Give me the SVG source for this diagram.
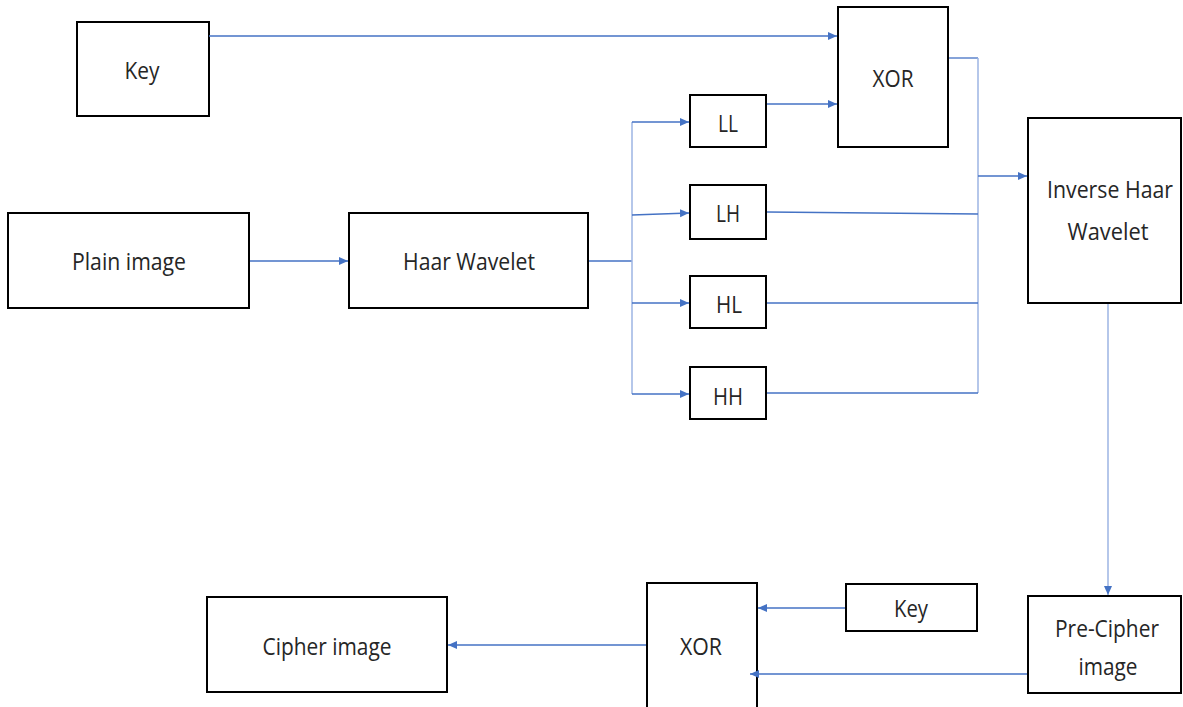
<svg xmlns="http://www.w3.org/2000/svg" width="1183" height="707" viewBox="0 0 1183 707">
<style>
.box{fill:#fff;stroke:#000;stroke-width:2}
.t{font-family:"Open Sans","Liberation Sans",sans-serif;font-size:24px;fill:#262626;text-anchor:middle}
.c{fill:none;stroke:#4472C4;stroke-width:1.3}
.cv{fill:none;stroke:#9DB5E3;stroke-width:1.5}
</style>
<defs>
<marker id="ah" markerUnits="userSpaceOnUse" markerWidth="10" markerHeight="10" refX="9" refY="4" orient="auto">
<path d="M0,0 L9,4 L0,8 Z" fill="#4472C4"/>
</marker>
</defs>
<rect width="1183" height="707" fill="#fff"/>
<g id="key1"><rect class="box" x="77" y="22" width="132" height="94"/><text class="t" x="142" y="79" textLength="35" lengthAdjust="spacingAndGlyphs">Key</text></g>
<g id="plain"><rect class="box" x="8" y="213" width="241" height="95"/><text class="t" x="129" y="270" textLength="114" lengthAdjust="spacingAndGlyphs">Plain image</text></g>
<g id="haar"><rect class="box" x="349" y="213" width="239" height="95"/><text class="t" x="469" y="270" textLength="132" lengthAdjust="spacingAndGlyphs">Haar Wavelet</text></g>
<g id="ll"><rect class="box" x="690" y="95" width="76" height="52"/><text class="t" x="728" y="132" textLength="20" lengthAdjust="spacingAndGlyphs">LL</text></g>
<g id="lh"><rect class="box" x="690" y="185" width="76" height="54"/><text class="t" x="728" y="222" textLength="24" lengthAdjust="spacingAndGlyphs">LH</text></g>
<g id="hl"><rect class="box" x="690" y="276" width="76" height="52"/><text class="t" x="729" y="313" textLength="26" lengthAdjust="spacingAndGlyphs">HL</text></g>
<g id="hh"><rect class="box" x="690" y="367" width="76" height="52"/><text class="t" x="728" y="405" textLength="30" lengthAdjust="spacingAndGlyphs">HH</text></g>
<g id="xor1"><rect class="box" x="838" y="7" width="110" height="140"/><text class="t" x="893" y="87" textLength="41" lengthAdjust="spacingAndGlyphs">XOR</text></g>
<g id="inverse"><rect class="box" x="1028" y="118" width="153" height="185"/><text class="t" x="1110" y="198" textLength="126" lengthAdjust="spacingAndGlyphs">Inverse Haar</text><text class="t" x="1108" y="240" textLength="81" lengthAdjust="spacingAndGlyphs">Wavelet</text></g>
<g id="precipher"><rect class="box" x="1028" y="596" width="153" height="97"/><text class="t" x="1107" y="637" textLength="104" lengthAdjust="spacingAndGlyphs">Pre-Cipher</text><text class="t" x="1108" y="675" textLength="59" lengthAdjust="spacingAndGlyphs">image</text></g>
<g id="key2"><rect class="box" x="846" y="584" width="131" height="47"/><text class="t" x="911" y="617" textLength="34" lengthAdjust="spacingAndGlyphs">Key</text></g>
<g id="xor2"><rect class="box" x="647" y="583" width="110" height="130"/><text class="t" x="701" y="655" textLength="42" lengthAdjust="spacingAndGlyphs">XOR</text></g>
<g id="cipher"><rect class="box" x="207" y="597" width="240" height="95"/><text class="t" x="327" y="655" textLength="129" lengthAdjust="spacingAndGlyphs">Cipher image</text></g>
<g id="connectors">
<path class="c" d="M209,36 H837" marker-end="url(#ah)"/>
<path class="c" d="M767,104 H837" marker-end="url(#ah)"/>
<path class="c" d="M250,261 H348" marker-end="url(#ah)"/>
<path class="c" d="M589,261 H632"/>
<path class="cv" d="M632,122 V394"/>
<path class="c" d="M632,122 H689" marker-end="url(#ah)"/>
<path class="c" d="M632,215 L689,213" marker-end="url(#ah)"/>
<path class="c" d="M632,303 H689" marker-end="url(#ah)"/>
<path class="c" d="M632,394 H689" marker-end="url(#ah)"/>
<path class="c" d="M949,58 H978"/>
<path class="cv" d="M978,58 V393"/>
<path class="c" d="M767,212 L978,214"/>
<path class="c" d="M767,303 H978"/>
<path class="c" d="M767,393 H978"/>
<path class="c" d="M978,176 H1027" marker-end="url(#ah)"/>
<path class="cv" d="M1108,304 V595" marker-end="url(#ah)"/>
<path class="c" d="M845,608 H758" marker-end="url(#ah)"/>
<path class="c" d="M1027,674 H750" marker-end="url(#ah)"/>
<path class="c" d="M646,645 H448" marker-end="url(#ah)"/>
</g>
</svg>
